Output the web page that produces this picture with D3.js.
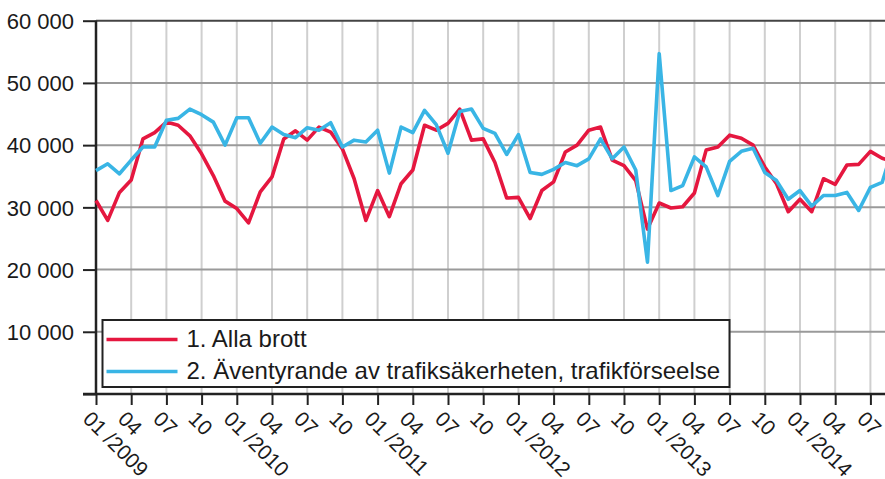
<!DOCTYPE html>
<html>
<head>
<meta charset="UTF-8">
<title>brott per månad</title>
<style>
    body { margin: 0; background: #fff; }
    svg text { font-family: "Liberation Sans", Arial, sans-serif; fill: #1a1a1a; }
</style>
</head>
<body>
<svg id="chart" width="885" height="479"></svg>
<script src="https://cdn.jsdelivr.net/npm/d3@7/dist/d3.min.js"></script>
<script>
    // en punkt per månad, index 0 = 01/2009
    const seriesNames = ["1. Alla brott", "2. Äventyrande av trafiksäkerheten, trafikförseelse"];
    const seriesColors = ["#e5173f", "#39b5e5"];

    const allaBrott = [
        31100, 27900, 32400, 34400, 41000, 42000, 43700, 43200, 41500, 38600, 35100, 31000,
        29800, 27500, 32500, 34900, 41000, 42300, 40800, 42900, 42100, 39400, 34600, 27900,
        32700, 28500, 33800, 36000, 43200, 42400, 43500, 45800, 40800, 41000, 37200, 31500,
        31600, 28200, 32700, 34100, 38900, 40000, 42400, 42900, 37600, 36700, 34300, 26500,
        30700, 29900, 30100, 32300, 39200, 39700, 41600, 41100, 40000, 36500, 33800, 29300,
        31300, 29300, 34600, 33700, 36800, 36900, 39000, 37900, 37300
    ];
    const trafikforseelse = [
        35900, 37000, 35400, 37600, 39700, 39700, 44000, 44300, 45800, 44900, 43700, 40000,
        44400, 44400, 40300, 42900, 41700, 41200, 42800, 42400, 43600, 39700, 40800, 40500,
        42400, 35500, 42900, 42000, 45600, 43300, 38700, 45400, 45800, 42700, 41900, 38500,
        41700, 35600, 35300, 36100, 37200, 36700, 37800, 41000, 37800, 39700, 36000, 21200,
        54700, 32700, 33500, 38100, 36500, 31900, 37400, 39000, 39500, 35600, 34300, 31300,
        32700, 30200, 31900, 31900, 32400, 29500, 33200, 34000, 40000
    ];

    const yTicks = [10000, 20000, 30000, 40000, 50000, 60000];
    const xTickMonths = d3.range(0, 67, 3);
    const xTickLabels = [
        "01 /2009", "04", "07", "10", "01 /2010", "04", "07", "10",
        "01 /2011", "04", "07", "10", "01 /2012", "04", "07", "10",
        "01 /2013", "04", "07", "10", "01 /2014", "04", "07"
    ];

    const svg = d3.select("#chart");
    const plotLeft = 96, plotTop = 20.7, plotBottom = 394;

    const x = d3.scaleLinear().domain([0, 60]).range([plotLeft, 800]);
    const y = d3.scaleLinear().domain([0, 60000]).range([plotBottom, plotTop]);
    const fmt = v => d3.format(",")(v).replace(/,/g, " ");

    // rutnät
    svg.append("g").selectAll("line").data(xTickMonths.slice(1)).join("line")
        .attr("x1", d => x(d)).attr("x2", d => x(d))
        .attr("y1", plotTop).attr("y2", plotBottom)
        .attr("stroke", "#cfcfcf").attr("stroke-width", 2);

    svg.append("g").selectAll("line").data(yTicks.slice(0, -1)).join("line")
        .attr("x1", plotLeft).attr("x2", 885)
        .attr("y1", d => y(d)).attr("y2", d => y(d))
        .attr("stroke", "#9a9a9a").attr("stroke-width", 2);

    svg.append("line")
        .attr("x1", plotLeft).attr("x2", 885)
        .attr("y1", y(60000)).attr("y2", y(60000))
        .attr("stroke", "#444").attr("stroke-width", 2);

    // y-axel
    const yAxis = d3.axisLeft(y).tickValues([0].concat(yTicks)).tickSize(13).tickFormat(d => d === 0 ? "" : fmt(d));
    const gy = svg.append("g").attr("transform", `translate(${plotLeft},0)`).call(yAxis);
    gy.select(".domain").remove();
    gy.selectAll(".tick line").attr("stroke", "#222").attr("stroke-width", 2);
    gy.selectAll(".tick text").attr("x", -22).attr("dy", "0.35em")
        .style("font-size", "22px").attr("fill", "#1a1a1a");

    // x-axel
    const gx = svg.append("g").attr("transform", `translate(0,${plotBottom})`)
        .call(d3.axisBottom(x).tickValues(xTickMonths).tickSize(11).tickFormat(""));
    gx.select(".domain").remove();
    gx.selectAll(".tick line").attr("stroke", "#222").attr("stroke-width", 2);
    gx.selectAll(".tick").append("text")
        .attr("transform", "rotate(45)")
        .attr("x", 8).attr("y", 29)
        .attr("text-anchor", "start")
        .style("font-size", "21px")
        .text((d, i) => xTickLabels[i]);

    svg.append("line").attr("x1", plotLeft - 13).attr("x2", 885)
        .attr("y1", plotBottom).attr("y2", plotBottom)
        .attr("stroke", "#222").attr("stroke-width", 2.5);
    svg.append("line").attr("x1", plotLeft).attr("x2", plotLeft)
        .attr("y1", plotTop).attr("y2", plotBottom)
        .attr("stroke", "#222").attr("stroke-width", 2.5);

    // linjer
    const line = d3.line().x((d, i) => x(i)).y(d => y(d));
    [allaBrott, trafikforseelse].forEach((s, k) => {
        svg.append("path").datum(s)
            .attr("d", line)
            .attr("fill", "none")
            .attr("stroke", seriesColors[k])
            .attr("stroke-width", 3.6)
            .attr("stroke-linejoin", "round");
    });

    // förklaring
    const lg = svg.append("g").attr("transform", "translate(102.5,320)");
    lg.append("rect").attr("width", 627).attr("height", 67)
        .attr("fill", "#fff").attr("stroke", "#222").attr("stroke-width", 2);
    seriesNames.forEach((name, k) => {
        const yy = 19.5 + k * 32;
        lg.append("line").attr("x1", 4).attr("x2", 75)
            .attr("y1", yy).attr("y2", yy)
            .attr("stroke", seriesColors[k]).attr("stroke-width", 3.6);
        lg.append("text").attr("x", 84).attr("y", yy + 7)
            .style("font-size", "24px").text(name);
    });
</script>
</body>
</html>
